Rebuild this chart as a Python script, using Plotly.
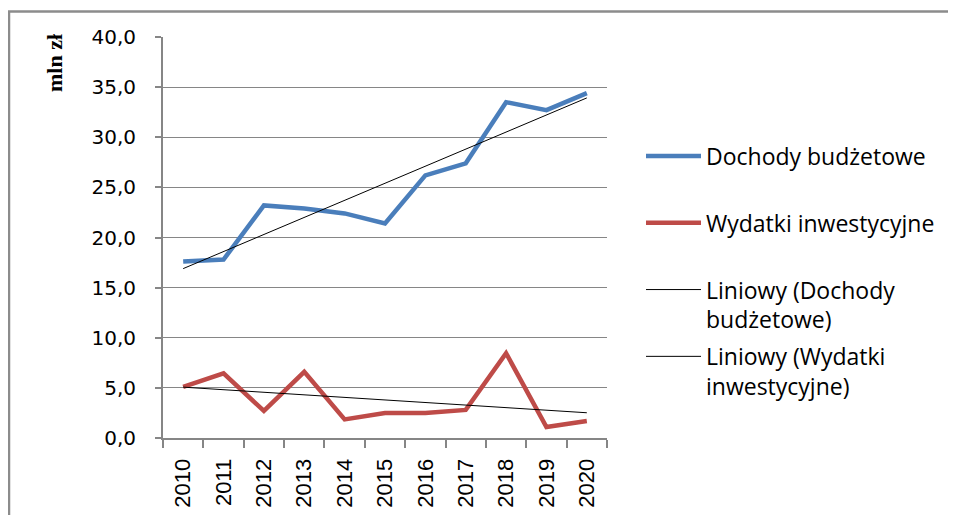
import numpy as np
import plotly.graph_objects as go

years = ["2010", "2011", "2012", "2013", "2014", "2015", "2016", "2017", "2018", "2019", "2020"]
dochody = [17.6, 17.8, 23.2, 22.9, 22.4, 21.4, 26.2, 27.4, 33.5, 32.7, 34.4]
wydatki = [5.1, 6.45, 2.7, 6.6, 1.85, 2.5, 2.5, 2.8, 8.45, 1.1, 1.7]
y_ticks = [0, 5, 10, 15, 20, 25, 30, 35, 40]

names = [
    "Dochody budżetowe<br>&nbsp;",
    "Wydatki inwestycyjne<br>&nbsp;",
    "Liniowy (Dochody<br>budżetowe)",
    "Liniowy (Wydatki<br>inwestycyjne)",
]

# linear trendlines (least squares, like Excel "Liniowy")
idx = np.arange(len(years))
trend_d = np.polyval(np.polyfit(idx, dochody, 1), idx)
trend_w = np.polyval(np.polyfit(idx, wydatki, 1), idx)

# the page body has an 8px margin: the figure is placed at (8, 8)
OFF = 8
W, H = 956 - OFF, 523 - 2 * OFF
# plot area in page pixels
L, R, T, B = 163, 607, 37, 438
l, r, t, b = L - OFF, R - OFF, T - OFF, B - OFF

fig = go.Figure()
fig.add_trace(go.Scatter(x=years, y=dochody, mode="lines", name=names[0], legendgroup="a",
                         line=dict(color="#4a7ebb", width=4.5)))
fig.add_trace(go.Scatter(x=years, y=wydatki, mode="lines", name=names[1], legendgroup="b",
                         line=dict(color="#be4b48", width=4.5)))
fig.add_trace(go.Scatter(x=years, y=trend_d, mode="lines", name=names[2], legendgroup="c",
                         line=dict(color="#000000", width=1)))
fig.add_trace(go.Scatter(x=years, y=trend_w, mode="lines", name=names[3], legendgroup="d",
                         line=dict(color="#000000", width=1)))

pw, ph = R - L, B - T
def px_x(x):  # page pixel -> paper
    return (x - L) / pw
def px_y(y):
    return (B - y) / ph

fx0, fx1 = px_x(9), px_x(1000)
fy0, fy1 = px_y(600), px_y(11.5)

fig.update_layout(
    width=W, height=H,
    margin=dict(l=l, r=W - r, t=t, b=H - b, pad=0, autoexpand=False),
    paper_bgcolor="white", plot_bgcolor="white",
    separators=", ",
    showlegend=True,
    legend=dict(
        x=px_x(641), y=px_y(134.5), xanchor="left", yanchor="top",
        font=dict(family="Open Sans", size=23, color="#000000"),
        tracegroupgap=4, valign="top", itemwidth=55,
        bgcolor="rgba(0,0,0,0)",
    ),
    xaxis=dict(
        type="category", range=[-0.5, len(years) - 0.5], automargin=False,
        showgrid=False, showline=True, linecolor="#868686", linewidth=2,
        ticks="outside", ticklen=8, tickcolor="#868686", tickwidth=1.5,
        tickson="boundaries", tickangle=-90, ticklabelstandoff=10,
        tickfont=dict(family="Liberation Sans", size=22, color="#000000"),
        fixedrange=True,
    ),
    yaxis=dict(
        range=[0, 40], tickvals=y_ticks, tickformat=".1f", automargin=False,
        showgrid=True, gridcolor="#868686", gridwidth=1,
        showline=True, linecolor="#868686", linewidth=2,
        ticks="outside", ticklen=6, tickcolor="#868686", tickwidth=1.5,
        ticklabelstandoff=15, zeroline=False,
        tickfont=dict(family="DejaVu Sans", size=20, color="#000000"),
        fixedrange=True,
    ),
    shapes=[
        dict(type="path", xref="paper", yref="paper",
             path=f"M {fx0},{fy0} L {fx0},{fy1} L {fx1},{fy1}",
             line=dict(color="#8c8c8c", width=2.5), layer="above"),
    ],
    annotations=[
        dict(text="<b>mln zł</b>", xref="paper", yref="paper", x=px_x(55), y=px_y(63),
             xanchor="center", yanchor="middle", textangle=-90, showarrow=False,
             font=dict(family="Liberation Serif", size=22, color="#000000")),
    ],
)

fig.write_html("out.html")
